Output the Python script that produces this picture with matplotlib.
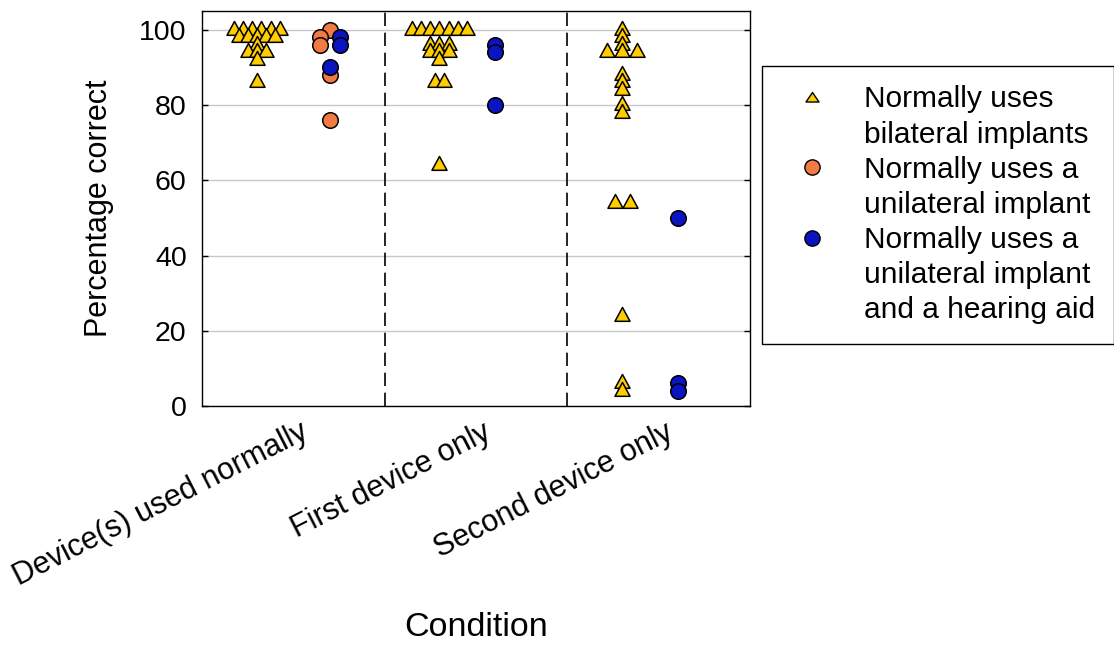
import numpy as np
import matplotlib.pyplot as plt
from matplotlib.path import Path
from matplotlib.lines import Line2D
from matplotlib.transforms import ScaledTranslation

plt.rcParams['font.family'] = ['Liberation Sans', 'DejaVu Sans']

conditions = ['Device(s) used normally', 'First device only', 'Second device only']

# percentage correct per listener, one list per condition
bilateral = [
    [100, 100, 100, 100, 100, 100, 98, 98, 98, 98, 98, 96, 94, 94, 94, 92, 86],
    [100, 100, 100, 100, 100, 100, 100, 96, 96, 96, 94, 94, 94, 92, 86, 86, 64],
    [100, 98, 96, 94, 94, 94, 88, 86, 84, 80, 78, 54, 54, 24, 6, 4],
]
unilateral = [[100, 98, 96, 88, 76], [], []]
implant_aid = [[98, 96, 90], [96, 94, 80], [50, 6, 4]]

legend_labels = [
    ['Normally uses', 'bilateral implants'],
    ['Normally uses a', 'unilateral implant'],
    ['Normally uses a', 'unilateral implant', 'and a hearing aid'],
]

YELLOW = '#FFCC00'
ORANGE = '#F27A45'
BLUE = '#0A14C0'

# group centres inside each condition and the sideways step for tied scores
TRI_X = -0.2
CIRC_X = [0.2, 0.105, 0.105]
TRI_STEP = [0.05, 0.05, 0.082]
CIRC_STEP = 0.11

# triangle whose base sits a little below the data point
tri_marker = Path([(-7.5, -4.8), (7.5, -4.8), (0, 9.0), (-7.5, -4.8)],
                  [Path.MOVETO, Path.LINETO, Path.LINETO, Path.CLOSEPOLY])
legend_tri = Path([(-6.5, -4.5), (6.5, -4.5), (0, 5.0), (-6.5, -4.5)],
                  [Path.MOVETO, Path.LINETO, Path.LINETO, Path.CLOSEPOLY])


def tie_offsets(values, step):
    vals = np.asarray(values, dtype=float)
    offs = np.zeros(len(vals))
    for v in np.unique(vals):
        idx = np.flatnonzero(vals == v)
        offs[idx] = (np.arange(len(idx)) - (len(idx) - 1) / 2) * step
    return offs


fig = plt.figure(figsize=(11.14, 6.46), dpi=100)
ax = fig.add_axes([202 / 1114, 1 - 406 / 646, 548 / 1114, 395 / 646])

for i in range(len(conditions)):
    tri = bilateral[i]
    ax.plot(i + TRI_X + tie_offsets(tri, TRI_STEP[i]), tri, linestyle='none',
            marker=tri_marker, ms=13.0, mfc=YELLOW, mec='black', mew=1.1, zorder=3)

    circ = unilateral[i] + implant_aid[i]
    offs = tie_offsets(circ, CIRC_STEP)
    n_uni = len(unilateral[i])
    if n_uni:
        ax.plot(i + CIRC_X[i] + offs[:n_uni], unilateral[i], linestyle='none',
                marker='o', ms=11.2, mfc=ORANGE, mec='black', mew=1.1, zorder=4)
    ax.plot(i + CIRC_X[i] + offs[n_uni:], implant_aid[i], linestyle='none',
            marker='o', ms=11.2, mfc=BLUE, mec='black', mew=1.1, zorder=5)

for x in (0.5, 1.5):
    ax.axvline(x, color='black', lw=1.2, dashes=(8, 4), zorder=2)

ax.set_xlim(-0.5, 2.5)
ax.set_ylim(0, 105)
ax.set_yticks(range(0, 101, 20))
ax.yaxis.grid(True, color='#c8c8c8', lw=1.0)
ax.set_axisbelow(True)
ax.tick_params(axis='y', direction='in', length=4, width=1, right=True,
               labelsize=20.5, pad=11)
ax.set_xticks(range(len(conditions)))
ax.set_xticklabels(conditions, rotation=27, ha='right', va='top',
                   rotation_mode='anchor')
ax.tick_params(axis='x', length=0, labelsize=22, pad=8)
shift = ScaledTranslation(6 / 100, 0, fig.dpi_scale_trans)
for lab in ax.get_xticklabels():
    lab.set_transform(lab.get_transform() + shift)
for sp in ax.spines.values():
    sp.set_linewidth(1.0)

ax.set_ylabel('Percentage correct', fontsize=22, labelpad=18)
ax.set_xlabel('Condition', fontsize=24.5)
ax.xaxis.set_label_coords(0.5, -0.522)

# one legend row per text line so each marker sits beside its first line
blank = Line2D([], [], linestyle='none')
handles = [
    Line2D([], [], linestyle='none', marker=legend_tri, ms=9.4,
           mfc=YELLOW, mec='black', mew=1.0),
    Line2D([], [], linestyle='none', marker='o', ms=11.0,
           mfc=ORANGE, mec='black', mew=1.0),
    Line2D([], [], linestyle='none', marker='o', ms=11.0,
           mfc=BLUE, mec='black', mew=1.0),
]
leg_handles, leg_texts = [], []
for h, lines in zip(handles, legend_labels):
    for j, line in enumerate(lines):
        leg_handles.append(h if j == 0 else blank)
        leg_texts.append(line)

leg = fig.legend(leg_handles, leg_texts, loc='upper left',
                 bbox_to_anchor=(762 / 1114, 1 - 66 / 646), fontsize=21.5,
                 frameon=True, fancybox=False, framealpha=1, edgecolor='black',
                 borderpad=0.65, labelspacing=0.24, handlelength=2.05,
                 handletextpad=0.70, borderaxespad=0)
leg.get_frame().set_linewidth(1.0)

fig.savefig('out.png', dpi=100)
